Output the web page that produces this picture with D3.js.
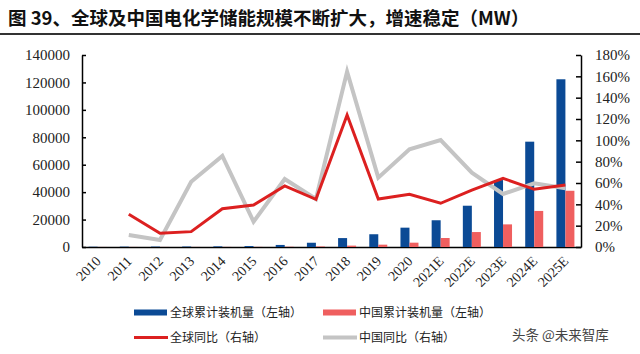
<!DOCTYPE html>
<html>
<head>
<meta charset="utf-8">
<script src="https://cdn.jsdelivr.net/npm/d3@7"></script>
<style>
  body { margin: 0; background: #fff; }
  svg { display: block; }
</style>
</head>
<body>
<div id="chart"></div>
<script>
// Data
const years = ["2010", "2011", "2012", "2013", "2014", "2015", "2016", "2017", "2018", "2019", "2020", "2021E", "2022E", "2023E", "2024E", "2025E"];
const globalMW = [200, 260, 300, 350, 470, 700, 1500, 3100, 6500, 9300, 14100, 19500, 30100, 48800, 76800, 122300];
const chinaMW = [40, 50, 55, 60, 80, 100, 200, 400, 1000, 1700, 3150, 6550, 10900, 16500, 26300, 41000];
const globalYoY = [null, 30.7, 12.8, 14.4, 35.9, 39.4, 57.2, 44.7, 123.7, 45.0, 49.4, 41.0, 53.4, 64.4, 54.1, 58.1];
const chinaYoY = [null, 11.2, 6.6, 61.2, 85.3, 23.7, 63.8, 45.0, 164.4, 65.0, 91.6, 100.3, 69.7, 49.7, 59.7, 55.0];
const leftTicks = [0, 20000, 40000, 60000, 80000, 100000, 120000, 140000];
const rightTicks = [0, 20, 40, 60, 80, 100, 120, 140, 160, 180];

const width = 640, height = 354;
const plot = {left: 82, right: 581, top: 55, bottom: 247};

const colors = {
    global: "#0b4a95",
    china: "#ef5f5f",
    globalLine: "#dc2020",
    chinaLine: "#c4c4c4"
};

const svg = d3.select("#chart")
    .append("svg")
    .attr("width", width)
    .attr("height", height);

// Title and rule under it
svg.append("text")
    .attr("x", 8)
    .attr("y", 25)
    .style("font-family", "'Noto Sans CJK SC', sans-serif")
    .style("font-weight", "bold")
    .style("font-size", "18.5px")
    .style("fill", "#111")
    .text("图 39、全球及中国电化学储能规模不断扩大，增速稳定（MW）");

svg.append("line")
    .attr("x1", 0).attr("x2", width)
    .attr("y1", 34).attr("y2", 34)
    .style("stroke", "#333")
    .style("stroke-width", 2);

// Scales
const x = d3.scaleBand()
    .domain(years)
    .range([plot.left, plot.right]);

const barW = 9;
const xSeries = d3.scaleBand()
    .domain(["global", "china"])
    .range([-barW, barW]);

const yLeft = d3.scaleLinear()
    .domain([0, 140000])
    .range([plot.bottom, plot.top]);

const yRight = d3.scaleLinear()
    .domain([0, 180])
    .range([plot.bottom, plot.top]);

const serif = "'Liberation Serif', 'Times New Roman', serif";

// Left axis
const leftAxis = svg.append("g")
    .attr("transform", `translate(${plot.left},0)`)
    .call(d3.axisLeft(yLeft).tickValues(leftTicks).tickSizeInner(-4).tickSizeOuter(0).tickPadding(12).tickFormat(d3.format("d")));
leftAxis.selectAll("text").style("font-family", serif).style("font-size", "15px").style("fill", "#222");
leftAxis.selectAll("line, path").style("stroke", "#000").style("stroke-width", 1.5);

// Right axis
const rightAxis = svg.append("g")
    .attr("transform", `translate(${plot.right},0)`)
    .call(d3.axisRight(yRight).tickValues(rightTicks).tickSizeInner(-5).tickSizeOuter(0).tickPadding(14).tickFormat(d => d + "%"));
rightAxis.selectAll("text").style("font-family", serif).style("font-size", "15px").style("fill", "#222");
rightAxis.selectAll("line, path").style("stroke", "#000").style("stroke-width", 1.5);

// Bottom axis, labels turned 45 degrees
const bottomAxis = svg.append("g")
    .attr("transform", `translate(0,${plot.bottom})`)
    .call(d3.axisBottom(x).tickSize(0));
bottomAxis.select("path").style("stroke", "#000").style("stroke-width", 1.5);
bottomAxis.selectAll("text")
    .attr("x", 0)
    .attr("y", 0)
    .attr("dy", 0)
    .attr("transform", "translate(4,15) rotate(-45)")
    .style("text-anchor", "end")
    .style("font-family", serif)
    .style("font-size", "14px")
    .style("fill", "#222");

// Bars
const bars = svg.append("g");
bars.selectAll(".bar-global")
    .data(globalMW)
    .enter()
    .append("rect")
    .attr("class", "bar-global")
    .attr("x", (d, i) => x(years[i]) + x.bandwidth() / 2 + xSeries("global"))
    .attr("y", d => yLeft(d))
    .attr("width", xSeries.bandwidth())
    .attr("height", d => plot.bottom - yLeft(d))
    .style("fill", colors.global);

bars.selectAll(".bar-china")
    .data(chinaMW)
    .enter()
    .append("rect")
    .attr("class", "bar-china")
    .attr("x", (d, i) => x(years[i]) + x.bandwidth() / 2 + xSeries("china"))
    .attr("y", d => yLeft(d))
    .attr("width", xSeries.bandwidth())
    .attr("height", d => plot.bottom - yLeft(d))
    .style("fill", colors.china);

// Lines
const line = d3.line()
    .defined(d => d[1] !== null)
    .x(d => x(d[0]) + x.bandwidth() / 2)
    .y(d => yRight(d[1]));

svg.append("path")
    .datum(years.map((y, i) => [y, chinaYoY[i]]))
    .attr("d", line)
    .style("fill", "none")
    .style("stroke", colors.chinaLine)
    .style("stroke-width", 4);

svg.append("path")
    .datum(years.map((y, i) => [y, globalYoY[i]]))
    .attr("d", line)
    .style("fill", "none")
    .style("stroke", colors.globalLine)
    .style("stroke-width", 3);

// Legend
const legendItems = [
    {label: "全球累计装机量（左轴）", color: colors.global, type: "bar", x: 134, y: 312.5},
    {label: "中国累计装机量（左轴）", color: colors.china, type: "bar", x: 323, y: 312.5},
    {label: "全球同比（右轴）", color: colors.globalLine, type: "line", x: 134, y: 337.5},
    {label: "中国同比（右轴）", color: colors.chinaLine, type: "line", x: 323, y: 337.5}
];

const legend = svg.append("g");
legendItems.forEach(item => {
    if (item.type === "bar") {
        legend.append("rect")
            .attr("x", item.x).attr("y", item.y - 3)
            .attr("width", 33).attr("height", 6)
            .style("fill", item.color);
    } else {
        legend.append("line")
            .attr("x1", item.x).attr("x2", item.x + 34)
            .attr("y1", item.y).attr("y2", item.y)
            .style("stroke", item.color)
            .style("stroke-width", item.color === colors.chinaLine ? 4 : 3);
    }
    legend.append("text")
        .attr("x", item.x + 36)
        .attr("y", item.y)
        .attr("dy", "0.35em")
        .style("font-family", "'Noto Sans CJK SC', sans-serif")
        .style("font-size", "12px")
        .style("fill", "#222")
        .text(item.label);
});

// Watermark
svg.append("text")
    .attr("x", 512)
    .attr("y", 335)
    .attr("dy", "0.35em")
    .style("font-family", "'Noto Sans CJK SC', sans-serif")
    .style("font-size", "13.5px")
    .style("fill", "#444")
    .text("头条 @未来智库");
</script>
</body>
</html>
